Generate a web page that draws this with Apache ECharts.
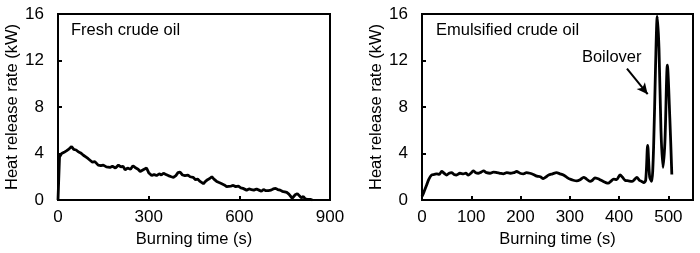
<!DOCTYPE html>
<html>
<head>
<meta charset="utf-8">
<script src="https://cdn.jsdelivr.net/npm/echarts@6/dist/echarts.min.js"></script>
<style>
  html, body { margin: 0; padding: 0; background: #fff; }
  #chart { width: 700px; height: 253px; }
</style>
</head>
<body>
<div id="chart"></div>
<script>
// fresh crude oil: [time (s), HRR (kW)]
const freshTime = [0, 5, 12, 20, 29, 37, 45, 52, 60, 67, 75, 84, 92, 100, 106, 114, 122, 133, 142, 150,
  160, 172, 180, 190, 200, 208, 215, 222, 230, 240, 248, 255, 265, 272, 282, 293, 300, 310, 318, 326,
  335, 342, 349, 357, 365, 375, 382, 390, 397, 404, 412, 420, 430, 437, 447, 455, 462, 470, 476, 481,
  488, 495, 502, 509, 516, 525, 533, 542, 550, 558, 564, 572, 580, 588, 597, 605, 612, 618, 624, 632,
  640, 648, 657, 665, 673, 680, 688, 696, 705, 712, 720, 727, 735, 742, 750, 757, 764, 770, 775, 779,
  785, 792, 798, 805, 812, 818, 825, 835, 842];
const freshHrr = [0, 3.7, 4.0, 4.1, 4.25, 4.4, 4.6, 4.35, 4.3, 4.15, 4.05, 3.85, 3.7, 3.55, 3.45, 3.25, 3.3, 3.0, 2.95, 3.0,
  2.85, 2.8, 2.9, 2.75, 3.0, 2.85, 2.9, 2.6, 2.75, 2.65, 2.95, 2.8, 2.65, 2.45, 2.6, 2.75, 2.35, 2.1, 2.2, 2.1,
  2.25, 2.15, 2.3, 2.2, 2.1, 2.0, 1.95, 2.1, 2.35, 2.4, 2.15, 2.1, 2.15, 2.0, 1.95, 1.75, 1.8, 1.6, 1.45, 1.4,
  1.6, 1.75, 1.85, 2.0, 1.8, 1.6, 1.5, 1.4, 1.3, 1.15, 1.1, 1.2, 1.25, 1.15, 1.2, 1.05, 1.0, 0.9, 0.85, 0.95,
  0.9, 0.85, 0.95, 0.85, 0.75, 0.9, 0.8, 0.8, 0.85, 0.95, 1.0, 0.9, 0.85, 0.75, 0.7, 0.65, 0.5, 0.35, 0.15, 0.05,
  0.45, 0.55, 0.4, 0.2, 0.3, 0.1, 0.05, 0.05, 0.0];

// emulsified crude oil
const emulTime = [0, 4, 9.5, 14, 19.6, 25, 30, 35, 40, 45, 50, 55, 60, 65, 70, 77, 84, 89, 94, 99,
  104, 109, 114, 120, 125, 131, 138, 145, 152, 158, 165, 172, 179, 186, 192, 199, 206, 212, 219, 226,
  233, 240, 246, 252, 257, 265, 273, 280, 287, 294, 300, 307, 314, 321, 328, 334, 341, 346, 351, 356,
  361, 368, 373, 378, 383, 389, 395, 402, 407, 412, 419, 426, 431, 436, 441, 446, 450, 454, 458, 462,
  466, 470, 474, 477.5, 481, 485, 489, 493, 498, 503, 507];
const emulHrr = [0.3, 0.7, 1.3, 1.8, 2.15, 2.2, 2.25, 2.2, 2.45, 2.3, 2.15, 2.3, 2.35, 2.2, 2.15, 2.3, 2.25, 2.3, 2.15, 2.3,
  2.5, 2.35, 2.3, 2.4, 2.5, 2.35, 2.3, 2.4, 2.35, 2.3, 2.25, 2.35, 2.3, 2.35, 2.45, 2.3, 2.25, 2.35, 2.3, 2.2,
  2.05, 2.0, 1.85, 2.0, 2.15, 2.25, 2.35, 2.25, 2.15, 1.95, 1.8, 1.7, 1.65, 1.75, 1.95, 1.8, 1.6, 1.7, 1.9, 1.85,
  1.75, 1.6, 1.5, 1.45, 1.6, 1.8, 1.75, 2.15, 1.95, 1.7, 1.65, 1.6, 1.75, 1.95, 1.7, 1.6, 1.5, 1.7, 4.7, 2.0,
  1.6, 4.5, 11.5, 15.8, 13, 6, 2.8, 5, 11.6, 7, 2.2];

const yTicks = { min: 0, max: 16, interval: 4 };
const freshTicks = { min: 0, max: 900, interval: 300 };
const emulTicks = { min: 0, max: 550, interval: 100 };

// boilover arrow, in data units of the right panel
const arrowFrom = [416, 11.3];
const arrowTo = [458, 9.1];
const boiloverAt = [385, 12.3];

const pair = (xs, ys) => xs.map((x, i) => [x, ys[i]]);
const FONT = 'Liberation Sans, Arial, sans-serif';

function xAxisOf(idx, ticks) {
	return {
		type: 'value', gridIndex: idx,
		min: ticks.min, max: ticks.max, interval: ticks.interval,
		name: 'Burning time (s)', nameLocation: 'middle', nameGap: 30,
		nameTextStyle: { color: '#000', fontSize: 16.5, fontFamily: FONT },
		axisLine: { lineStyle: { color: '#000', width: 2 } },
		axisTick: { inside: true, length: 4, lineStyle: { color: '#000', width: 2 } },
		axisLabel: { color: '#000', fontSize: 17, fontFamily: FONT, margin: 9, showMaxLabel: idx === 0 },
		splitLine: { show: false },
	};
}

function yAxisOf(idx) {
	return {
		type: 'value', gridIndex: idx,
		min: yTicks.min, max: yTicks.max, interval: yTicks.interval,
		name: 'Heat release rate (kW)', nameLocation: 'middle', nameGap: 34,
		nameTextStyle: { color: '#000', fontSize: 16.5, fontFamily: FONT },
		axisLine: { lineStyle: { color: '#000', width: 2 } },
		axisTick: { inside: true, length: 4, lineStyle: { color: '#000', width: 2 } },
		axisLabel: { color: '#000', fontSize: 17, fontFamily: FONT, margin: 14 },
		splitLine: { show: false },
	};
}

const chart = echarts.init(document.getElementById('chart'), null, { renderer: 'canvas' });
chart.setOption({
	animation: false,
	grid: [
		{ left: 58, top: 14, width: 272, height: 186, show: true, borderColor: '#000', borderWidth: 2 },
		{ left: 422, top: 14, width: 271, height: 186, show: true, borderColor: '#000', borderWidth: 2 },
	],
	xAxis: [xAxisOf(0, freshTicks), xAxisOf(1, emulTicks)],
	yAxis: [yAxisOf(0), yAxisOf(1)],
	graphic: [
		{ type: 'text', left: 71, top: 22, style: { text: 'Fresh crude oil', fill: '#000', fontSize: 16.5, fontFamily: FONT } },
		{ type: 'text', left: 436, top: 22, style: { text: 'Emulsified crude oil', fill: '#000', fontSize: 16.5, fontFamily: FONT } },
	],
	series: [
		{
			type: 'line', xAxisIndex: 0, yAxisIndex: 0,
			data: pair(freshTime, freshHrr),
			showSymbol: false,
			lineStyle: { color: '#000', width: 2.8 },
		},
		{
			type: 'line', xAxisIndex: 1, yAxisIndex: 1,
			data: pair(emulTime, emulHrr),
			showSymbol: false, smooth: 0.3,
			lineStyle: { color: '#000', width: 2.8 },
			markLine: {
				silent: true, symbol: ['none', 'arrow'], symbolSize: [8, 11],
				lineStyle: { color: '#000', width: 2, type: 'solid' },
				label: { show: false },
				data: [[{ coord: arrowFrom }, { coord: arrowTo }]],
			},
			markPoint: {
				silent: true, symbol: 'circle', symbolSize: 0,
				label: { show: true, position: 'inside', formatter: 'Boilover', color: '#000', fontSize: 16.5, fontFamily: FONT },
				data: [{ coord: boiloverAt }],
			},
		},
	],
});
</script>
</body>
</html>
